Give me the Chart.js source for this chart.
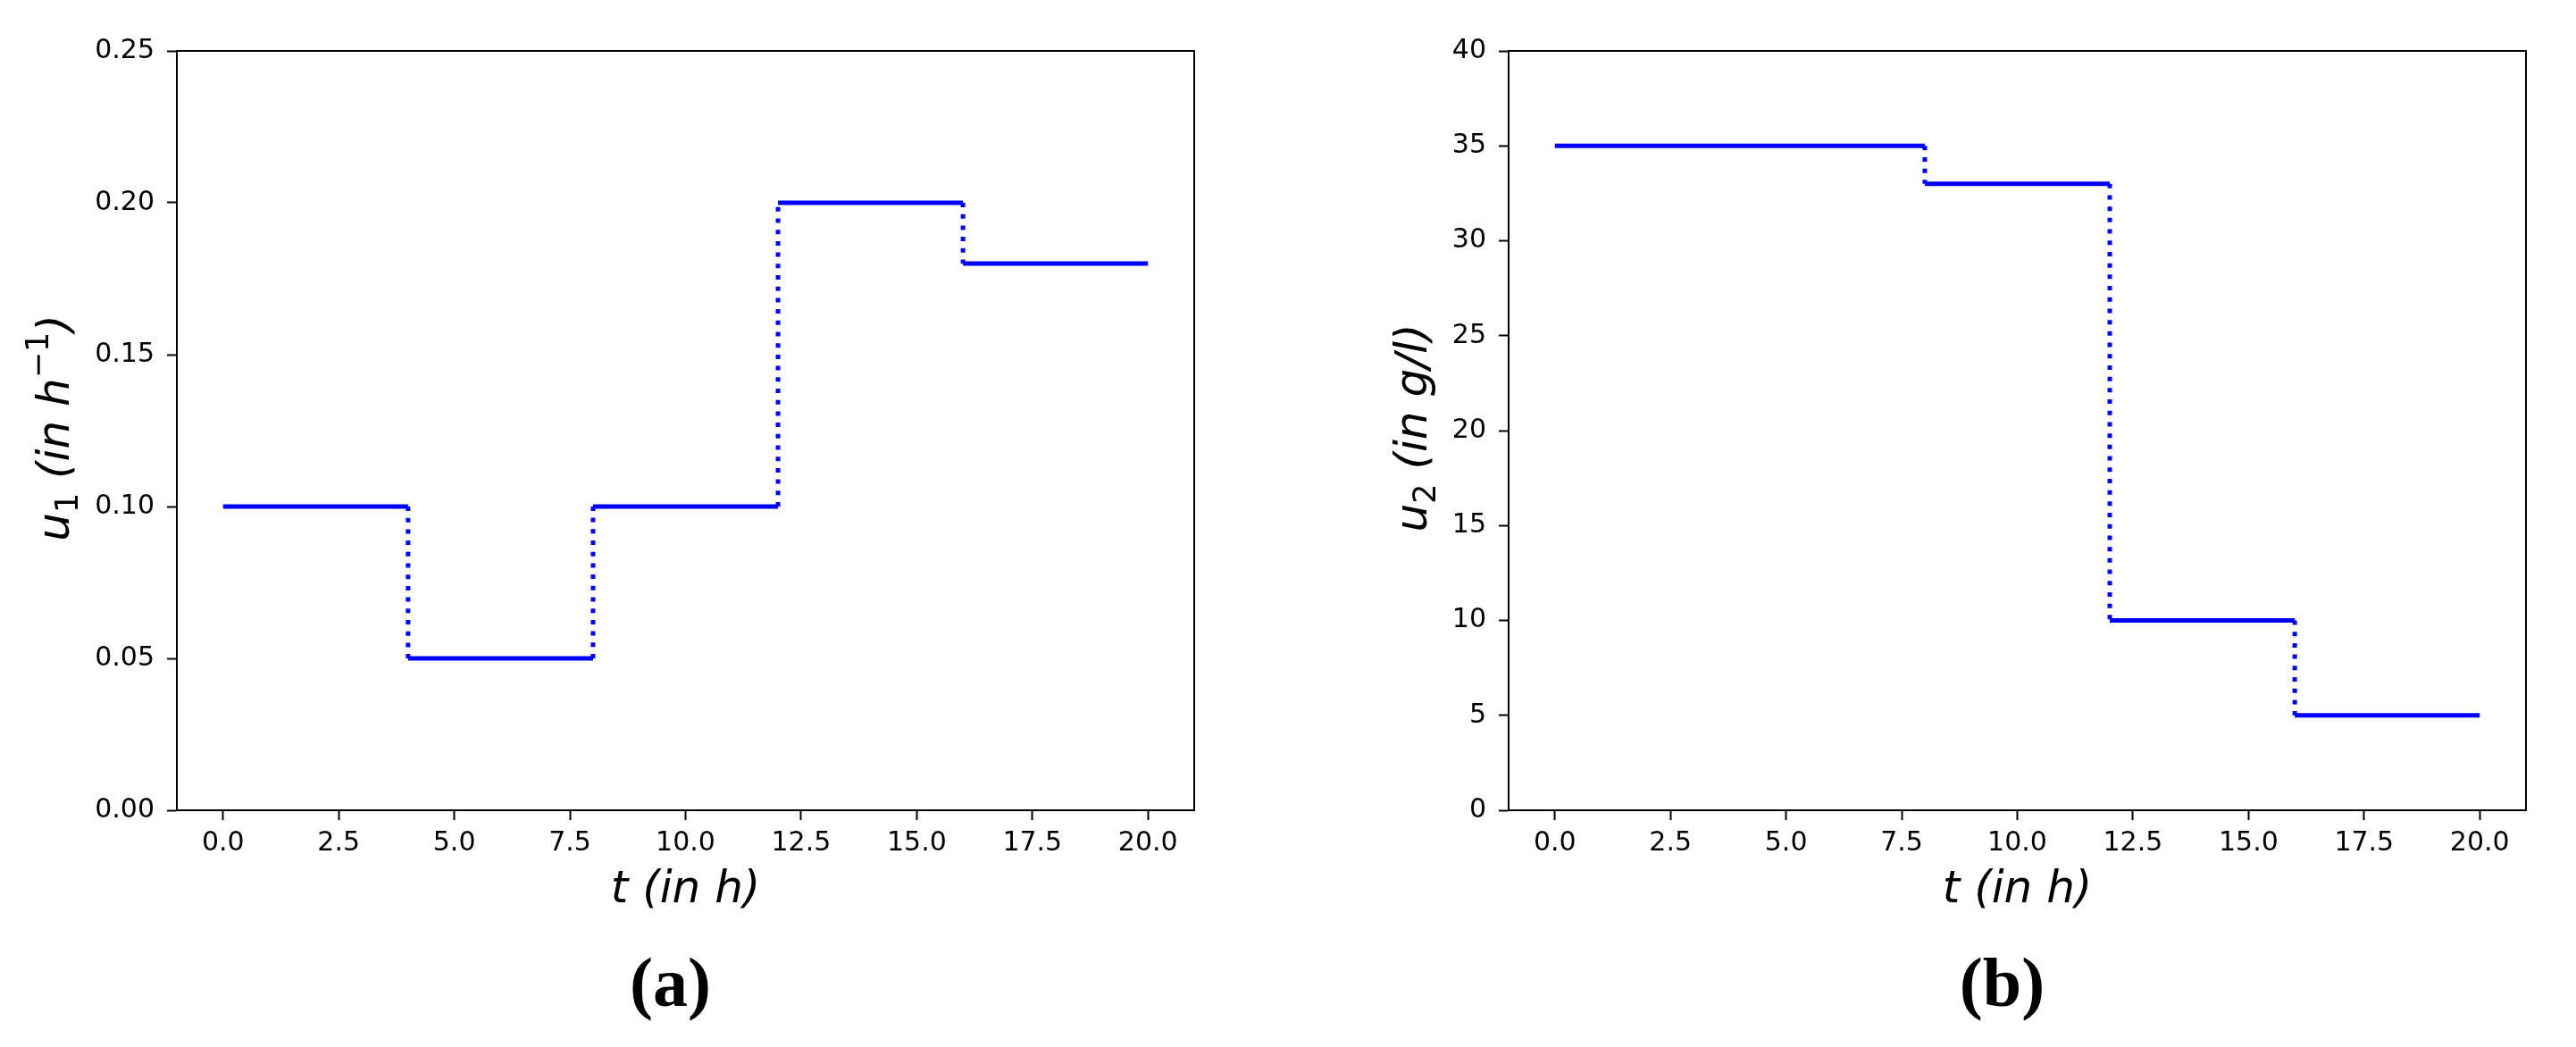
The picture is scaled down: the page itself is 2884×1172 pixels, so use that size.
<!DOCTYPE html>
<html>
<head>
<meta charset="utf-8">
<title>u1 / u2 control profiles</title>
<script src="https://cdn.jsdelivr.net/npm/chart.js@4.4.0/dist/chart.umd.min.js"></script>
<style>
    html, body { margin: 0; padding: 0; background: #fff; }
    #wrap { position: relative; width: 2884px; height: 1172px; overflow: hidden; }
    canvas { position: absolute; top: 0; }
    #chartA { left: 0; }
    #chartB { left: 1442px; }
</style>
</head>
<body>
<div id="wrap">
    <canvas id="chartA" width="1442" height="1172"></canvas>
    <canvas id="chartB" width="1442" height="1172"></canvas>
</div>
<script>
/* data */
var switchTimes = [0, 4, 8, 12, 16, 20];
var u1Values = [0.10, 0.05, 0.10, 0.20, 0.18];
var u2Values = [35, 35, 33, 10, 5];
var tTicks = [0, 2.5, 5, 7.5, 10, 12.5, 15, 17.5, 20];
var u1Ticks = [0, 0.05, 0.10, 0.15, 0.20, 0.25];
var u2Ticks = [0, 5, 10, 15, 20, 25, 30, 35, 40];

(function () {
    'use strict';

    var FONT = '"DejaVu Sans", sans-serif';
    var LABEL_SIZE = 50;
    var BLUE = '#0000ff';

    Chart.defaults.color = '#000';
    Chart.defaults.font.family = FONT;

    // flat parts of the profile, broken with nulls between intervals
    function levelPoints(times, values) {
        var pts = [];
        for (var i = 0; i < values.length; i++) {
            if (i > 0) pts.push({ x: times[i], y: null });
            pts.push({ x: times[i], y: values[i] });
            pts.push({ x: times[i + 1], y: values[i] });
        }
        return pts;
    }

    // vertical jumps at the switching times
    function jumpPoints(times, values) {
        var pts = [];
        for (var i = 1; i < values.length; i++) {
            if (i > 1) pts.push({ x: times[i], y: null });
            pts.push({ x: times[i], y: values[i - 1] });
            pts.push({ x: times[i], y: values[i] });
        }
        return pts;
    }

    function fixedTicks(list) {
        return function (axis) {
            axis.ticks = list.map(function (v) { return { value: v }; });
        };
    }

    // mathtext-like label: runs of [text, kind], kind = i | r | sub | sup
    function drawRuns(ctx, runs, size) {
        var parts = runs.map(function (r) {
            var small = r[1] === 'sub' || r[1] === 'sup';
            var font = (r[1] === 'i' ? 'italic ' : '') + (small ? size * 0.7 : size) + 'px ' + FONT;
            ctx.font = font;
            return {
                text: r[0],
                font: font,
                w: ctx.measureText(r[0]).width,
                dy: r[1] === 'sub' ? size * 0.2 : (r[1] === 'sup' ? -size * 0.47 : 0)
            };
        });
        var total = parts.reduce(function (s, p) { return s + p.w; }, 0);
        var x = -total / 2;
        ctx.textAlign = 'left';
        ctx.textBaseline = 'alphabetic';
        parts.forEach(function (p) {
            ctx.font = p.font;
            ctx.fillText(p.text, x, p.dy);
            x += p.w;
        });
    }

    var richLabels = {
        id: 'richLabels',
        afterDraw: function (chart) {
            var o = chart.options.plugins.richLabels;
            var ctx = chart.ctx;
            var area = chart.chartArea;
            var yScale = chart.scales.y;

            ctx.save();
            // top / right spines
            ctx.strokeStyle = '#000';
            ctx.lineWidth = 2;
            ctx.beginPath();
            ctx.moveTo(area.left, area.bottom);
            ctx.lineTo(area.left, area.top);
            ctx.lineTo(area.right, area.top);
            ctx.lineTo(area.right, area.bottom);
            ctx.stroke();

            ctx.fillStyle = '#000';
            var cx = (area.left + area.right) / 2;

            ctx.save();
            ctx.translate(cx, area.bottom + 103);
            drawRuns(ctx, o.x, LABEL_SIZE);
            ctx.restore();

            // place y label just left of the widest tick label
            ctx.font = '30px ' + FONT;
            var widest = 0;
            yScale.ticks.forEach(function (t, i) {
                var s = yScale.options.ticks.callback(t.value, i);
                widest = Math.max(widest, ctx.measureText(s).width);
            });
            var baseX = area.left - 25 - widest - 29;
            ctx.save();
            ctx.translate(baseX, (area.top + area.bottom) / 2 - 3);
            ctx.rotate(-Math.PI / 2);
            drawRuns(ctx, o.y, LABEL_SIZE);
            ctx.restore();

            ctx.font = 'bold 78px "Liberation Serif", serif';
            ctx.textAlign = 'center';
            ctx.textBaseline = 'alphabetic';
            ctx.fillText(o.caption, cx - 17, area.bottom + 219);
            ctx.restore();
        }
    };

    function makeChart(id, values, yTicks, yMax, yFmt, yWidth, rightPad, labels) {
        var ctx = document.getElementById(id).getContext('2d');
        return new Chart(ctx, {
            type: 'line',
            data: {
                datasets: [{
                    data: levelPoints(switchTimes, values),
                    borderColor: BLUE,
                    borderWidth: 5,
                    borderCapStyle: 'butt',
                    pointRadius: 0,
                    spanGaps: false,
                    fill: false
                }, {
                    data: jumpPoints(switchTimes, values),
                    borderColor: BLUE,
                    borderWidth: 5,
                    borderCapStyle: 'butt',
                    borderDash: [5, 7.7],
                    pointRadius: 0,
                    spanGaps: false,
                    fill: false
                }]
            },
            options: {
                responsive: false,
                animation: false,
                devicePixelRatio: 1,
                layout: { padding: { top: 57, right: rightPad, left: 0, bottom: 0 } },
                plugins: {
                    legend: { display: false },
                    tooltip: { enabled: false },
                    richLabels: labels
                },
                scales: {
                    x: {
                        type: 'linear',
                        min: -1,
                        max: 21,
                        afterBuildTicks: fixedTicks(tTicks),
                        afterFit: function (s) { s.height = 265; },
                        grid: { drawOnChartArea: false, tickLength: 11, tickWidth: 2, tickColor: '#000' },
                        border: { display: true, color: '#000', width: 2 },
                        ticks: {
                            padding: 8,
                            maxRotation: 0,
                            autoSkip: false,
                            font: { size: 30 },
                            callback: function (v) { return Number(v).toFixed(1); }
                        }
                    },
                    y: {
                        type: 'linear',
                        min: 0,
                        max: yMax,
                        afterBuildTicks: fixedTicks(yTicks),
                        afterFit: function (s) { s.width = yWidth; },
                        grid: { drawOnChartArea: false, tickLength: 11, tickWidth: 2, tickColor: '#000' },
                        border: { display: true, color: '#000', width: 2 },
                        ticks: {
                            padding: 14,
                            autoSkip: false,
                            font: { size: 30 },
                            callback: yFmt
                        }
                    }
                }
            },
            plugins: [richLabels]
        });
    }

    makeChart('chartA', u1Values, u1Ticks, 0.25,
        function (v) { return Number(v).toFixed(2); }, 198, 105,
        {
            x: [['t (in h)', 'i']],
            y: [['u', 'i'], ['1', 'sub'], [' (in h', 'i'], ['\u22121', 'sup'], [')', 'i']],
            caption: '(a)'
        });

    makeChart('chartB', u2Values, u2Ticks, 40,
        function (v) { return String(Math.round(v)); }, 247, 56,
        {
            x: [['t (in h)', 'i']],
            y: [['u', 'i'], ['2', 'sub'], [' (in g/l)', 'i']],
            caption: '(b)'
        });
})();
</script>
</body>
</html>
